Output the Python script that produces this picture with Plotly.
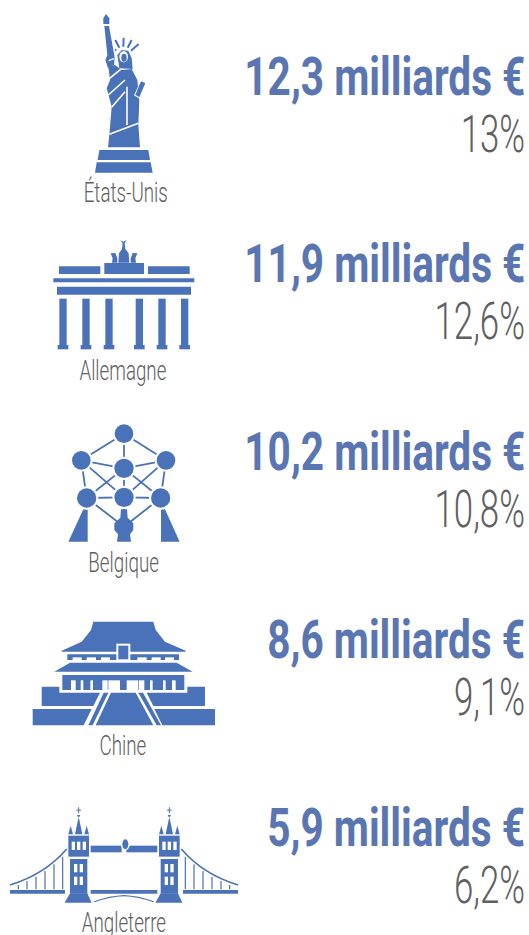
import plotly.graph_objects as go

countries = ["États-Unis", "Allemagne", "Belgique", "Chine", "Angleterre"]
amounts = ["12,3", "11,9", "10,2", "8,6", "5,9"]
shares = ["13%", "12,6%", "10,8%", "9,1%", "6,2%"]

amount_y = [77, 264, 452, 640, 828]
share_y = [134, 321, 509, 697, 885]
label_y = [192, 370, 562, 745, 922]
label_x = [125, 123, 123, 123, 124]

BLUE = "#4a72b8"
TEXT = "#5a76b2"
GREY = "#606060"
shapes = []


def poly(pts, ox, oy, fill=BLUE):
    d = "M" + " L".join(f"{ox + x / 3:.2f},{oy + y / 3:.2f}" for x, y in pts) + " Z"
    shapes.append(dict(type="path", path=d, fillcolor=fill, line_width=0, layer="above"))


def rect(x0, y0, x1, y1, ox, oy, fill=BLUE):
    poly([(x0, y0), (x1, y0), (x1, y1), (x0, y1)], ox, oy, fill)


def seg(x0, y0, x1, y1, ox, oy, color=BLUE, w=2):
    shapes.append(dict(type="line", x0=ox + x0 / 3, y0=oy + y0 / 3, x1=ox + x1 / 3, y1=oy + y1 / 3,
                       line=dict(color=color, width=w), layer="above"))


def oval(cx, cy, rx, ry, ox, oy, fill=BLUE, line=None, w=0):
    shapes.append(dict(type="circle", x0=ox + (cx - rx) / 3, x1=ox + (cx + rx) / 3,
                       y0=oy + (cy - ry) / 3, y1=oy + (cy + ry) / 3, fillcolor=fill,
                       line=dict(color=line or fill, width=w), layer="above"))


def curve(p0, c, p1, ox, oy, w=2):
    d = (f"M{ox + p0[0] / 3:.2f},{oy + p0[1] / 3:.2f} Q{ox + c[0] / 3:.2f},{oy + c[1] / 3:.2f} "
         f"{ox + p1[0] / 3:.2f},{oy + p1[1] / 3:.2f}")
    shapes.append(dict(type="path", path=d, line=dict(color=BLUE, width=w), layer="above"))


# ---- Statue of Liberty ----
ox, oy = 60, 0
poly([(138, 42), (148, 55), (148, 72), (130, 72), (130, 55)], ox, oy)
poly([(145, 200), (165, 195), (185, 210), (215, 207), (232, 240), (238, 300), (235, 375), (240, 442),
      (144, 442), (148, 405), (155, 320), (140, 265), (150, 240)], ox, oy)
poly([(133, 78), (147, 78), (160, 150), (164, 172), (162, 195), (144, 205), (136, 180), (142, 165)], ox, oy)
seg(148, 403, 235, 370, ox, oy, "white", 1.6)
seg(201, 260, 201, 375, ox, oy, "white", 1.6)
seg(145, 285, 195, 240, ox, oy, "white", 1.6)
seg(155, 322, 195, 275, ox, oy, "white", 1.6)
seg(145, 238, 182, 208, ox, oy, "white", 1.6)
seg(146, 182, 162, 176, ox, oy, "white", 1.4)
poly([(178, 205), (172, 165), (185, 150), (205, 152), (215, 175), (218, 207)], ox, oy)
oval(191, 170, 13, 17, ox, oy, "white")
oval(192, 173, 8, 12, ox, oy)
poly([(243, 240), (260, 247), (240, 297), (222, 286)], ox, oy, "white")
poly([(243, 244), (256, 249), (238, 292), (226, 284)], ox, oy)
seg(178, 143, 166, 120, ox, oy, BLUE, 2)
seg(190, 140, 191, 113, ox, oy, BLUE, 2)
seg(203, 143, 215, 120, ox, oy, BLUE, 2)
seg(213, 152, 236, 132, ox, oy, BLUE, 2)
oval(167, 150, 3, 3, ox, oy)
poly([(118, 450), (265, 450), (270, 480), (113, 480)], ox, oy)
poly([(110, 487), (272, 487), (278, 518), (105, 518)], ox, oy)

# ---- Brandenburg Gate ----
ox, oy = 40, 225
rect(57, 124, 181, 147, ox, oy)
rect(193, 114, 312, 147, ox, oy)
rect(324, 124, 449, 147, ox, oy)
rect(40, 160, 463, 172, ox, oy)
rect(51, 185, 453, 209, ox, oy)
for cx in [69, 138, 207, 298, 366, 434]:
    rect(cx - 11, 221, cx + 11, 362, ox, oy)
    rect(cx - 16, 360, cx + 16, 373, ox, oy)
poly([(235, 113), (237, 85), (246, 72), (248, 55), (241, 46), (250, 50), (260, 46), (254, 55), (256, 72),
      (266, 85), (268, 113)], ox, oy)
poly([(212, 85), (226, 84), (232, 100), (232, 113), (216, 113), (218, 100)], ox, oy)
poly([(292, 85), (278, 84), (272, 100), (272, 113), (288, 113), (286, 100)], ox, oy)

# ---- Atomium ----
ox, oy = 55, 415
top, lf, rg, ctr = (207, 56), (79, 136), (333, 136), (207, 160)
ll, lm, lr, bot = (95, 249), (207, 247), (317, 249), (207, 335)
edges = [(top, lf), (top, ctr), (top, rg), (lf, ctr), (rg, ctr), (lf, ll), (rg, lr), (ctr, lm), (ll, lm),
         (lm, lr), (lf, lm), (rg, lm), (ctr, ll), (ctr, lr), (ll, bot), (lr, bot), (lm, bot)]
for a, b in edges:
    seg(a[0], a[1], b[0], b[1], ox, oy, BLUE, 1.8)
poly([(85, 283), (98, 283), (98, 380), (40, 380)], ox, oy)
poly([(318, 283), (330, 283), (374, 380), (318, 380)], ox, oy)
for (cx, cy), r in [(top, 28), (lf, 28), (rg, 28), (ctr, 29), (ll, 29), (lm, 29), (lr, 29)]:
    oval(cx, cy, r + 6, r + 6, ox, oy, "white")
    oval(cx, cy, r, r, ox, oy)
poly([(198, 283), (216, 283), (218, 308), (235, 325), (235, 345), (225, 358), (228, 380), (186, 380),
      (189, 358), (178, 345), (178, 325), (196, 308)], ox, oy)

# ---- Forbidden City ----
ox, oy = 25, 610
poly([(205, 35), (385, 35), (392, 60), (420, 95), (482, 122), (482, 125), (110, 125), (110, 122), (170, 95),
      (198, 60)], ox, oy)
rect(127, 133, 462, 150, ox, oy)
for a, b in [(143, 170), (185, 213), (228, 255), (337, 365), (380, 407), (420, 447)]:
    rect(a, 142, b, 151, ox, oy, "white")
rect(274, 101, 316, 151, ox, oy, "white")
rect(280, 107, 310, 148, ox, oy)
poly([(135, 158), (455, 158), (503, 185), (88, 185)], ox, oy)
rect(112, 195, 478, 240, ox, oy)
for a, b in [(138, 152), (167, 175), (196, 204), (232, 248), (250, 285), (305, 340), (342, 358), (375, 383),
             (414, 422), (441, 452)]:
    rect(a, 211, b, 241, ox, oy, "white")
poly([(50, 230), (103, 230), (103, 248), (225, 248), (205, 288), (50, 288)], ox, oy)
poly([(540, 230), (487, 230), (487, 248), (365, 248), (385, 288), (540, 288)], ox, oy)
poly([(23, 297), (200, 297), (176, 346), (23, 346)], ox, oy)
poly([(570, 297), (388, 297), (412, 346), (570, 346)], ox, oy)
poly([(258, 248), (332, 248), (385, 346), (212, 346)], ox, oy)
poly([(236, 248), (250, 248), (203, 346), (190, 346)], ox, oy)
poly([(340, 248), (354, 248), (408, 346), (395, 346)], ox, oy)

# ---- Tower Bridge ----
ox, oy = 0, 795
for m in [False, True]:
    fx = (lambda v: 744 - v) if m else (lambda v: v)
    curve((fx(30), 270), (fx(135), 238), (fx(200), 162), ox, oy, 1.6)
    for hx, ht in [(55, 270), (81, 258), (108, 245), (135, 228), (162, 208), (188, 185)]:
        seg(fx(hx), ht, fx(hx), 283, ox, oy, BLUE, 1.2)
    rect(fx(30), 285, fx(195), 296, ox, oy)
    rect(fx(272), 285, fx(372), 296, ox, oy)
    curve((fx(283), 320), (fx(330), 304), (fx(372), 302), ox, oy, 1.1)
    rect(fx(272), 152, fx(365), 172, ox, oy)
oval(376, 148, 13, 18, ox, oy, "white")
oval(376, 148, 9, 15, ox, oy)
for tx in [236, 508]:
    rect(tx - 31, 122, tx + 31, 185, ox, oy)
    rect(tx - 26, 192, tx + 26, 296, ox, oy)
    poly([(tx - 26, 295), (tx + 26, 295), (tx + 39, 323), (tx - 42, 323)], ox, oy)
    for dx in [-16, 0, 17]:
        rect(tx + dx - 5, 140, tx + dx + 5, 165, ox, oy, "white")
    for dx in [-9, 8]:
        for wy in [207, 245]:
            rect(tx + dx - 5, wy, tx + dx + 5, wy + 25, ox, oy, "white")
    poly([(tx, 65), (tx + 11, 118), (tx - 11, 118)], ox, oy)
    poly([(tx - 24, 92), (tx - 17, 118), (tx - 31, 118)], ox, oy)
    poly([(tx + 24, 92), (tx + 31, 118), (tx + 17, 118)], ox, oy)
    rect(tx - 4, 60, tx + 4, 65, ox, oy)
    rect(tx - 1.5, 37, tx + 1.5, 55, ox, oy)
    rect(tx - 7, 44, tx + 7, 47, ox, oy)

annotations = []
for i in range(5):
    annotations.append(dict(x=527, y=amount_y[i], text=f"{amounts[i]} milliards €", xanchor="right",
                            yanchor="middle", showarrow=False,
                            font=dict(family="Roboto", size=53, color=TEXT, weight="bold")))
    annotations.append(dict(x=527, y=share_y[i], text=shares[i], xanchor="right", yanchor="middle",
                            showarrow=False,
                            font=dict(family="Roboto", size=52, color=GREY, weight=300)))
    annotations.append(dict(x=label_x[i], y=label_y[i], text=countries[i], xanchor="center", yanchor="middle",
                            showarrow=False,
                            font=dict(family="Roboto", size=28, color=GREY, weight=300)))

fig = go.Figure()
fig.update_layout(width=529, height=935, margin=dict(l=0, r=0, t=0, b=0), paper_bgcolor="white",
                  plot_bgcolor="white", showlegend=False,
                  xaxis=dict(range=[0, 529], visible=False, fixedrange=True),
                  yaxis=dict(range=[935, 0], visible=False, fixedrange=True),
                  shapes=shapes, annotations=annotations)

# Horizontally condense the annotation text (the reference uses a condensed face) and drop the page margin.
post = """
document.body.style.margin = '0';
document.body.style.overflow = 'hidden';
var SCALE = {53: 0.765, 52: 0.67, 28: 0.67};
var gd = document.getElementById('{plot_id}');
gd.querySelectorAll('g.annotation').forEach(function (g) {
  var ann = gd.layout.annotations[+g.getAttribute('data-index')];
  var t = g.querySelector('text.annotation-text');
  t.style.transformBox = 'fill-box';
  t.style.transformOrigin = ann.xanchor + ' center';
  t.style.transform = 'scaleX(' + SCALE[ann.font.size] + ')';
});
"""
fig.write_html("out.html", config=dict(displayModeBar=False), post_script=post)
